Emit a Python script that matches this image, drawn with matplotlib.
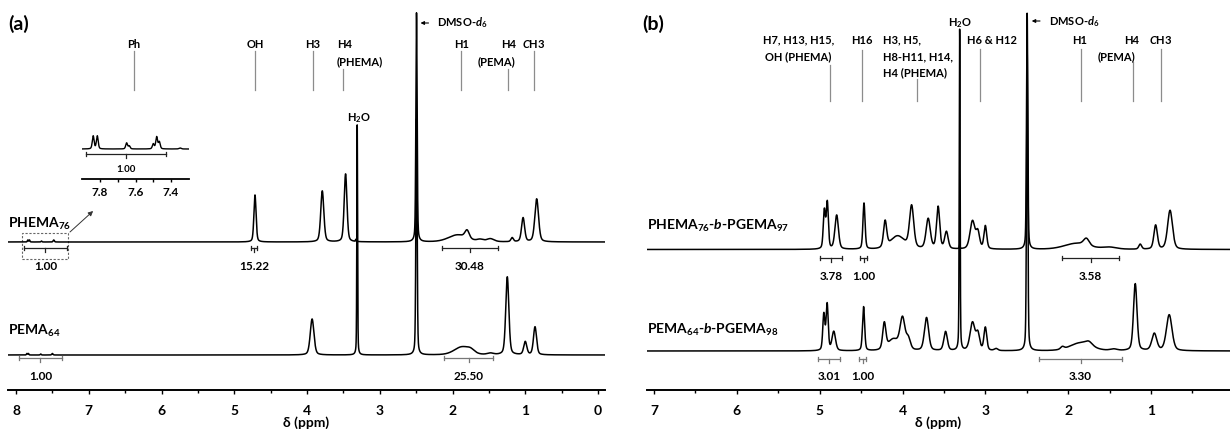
import numpy as np
import matplotlib
matplotlib.use('Agg')
import matplotlib.pyplot as plt
from matplotlib import font_manager as fm
from matplotlib.patches import Rectangle


def pick_bold_family():
    # first family that really ships a bold face
    for fam in ['Lato', 'Roboto', 'Open Sans', 'Noto Sans', 'Liberation Sans']:
        try:
            f = fm.findfont(fm.FontProperties(family=fam, weight='bold'), fallback_to_default=False)
        except Exception:
            continue
        if 'bold' in f.lower():
            return fam
    return 'DejaVu Sans'


FAM = pick_bold_family()
plt.rcParams['font.family'] = [FAM, 'DejaVu Sans']
plt.rcParams['font.weight'] = 'bold'
plt.rcParams['mathtext.fontset'] = 'custom'
plt.rcParams['mathtext.rm'] = FAM + ':bold'
plt.rcParams['mathtext.it'] = FAM + ':italic:bold'
plt.rcParams['mathtext.bf'] = FAM + ':bold'

# ---- peak tables (chemical shift, height in px, width in ppm) ----
# (a) PHEMA76
a1_pos = [7.838, 7.815, 7.650, 7.481, 4.715, 3.79, 3.47, 3.33, 2.495, 1.93, 1.80, 1.62, 1.48, 1.18, 1.03, 0.843]
a1_ht = [2.0, 2.0, 1.0, 2.0, 47, 51, 68, 2, 229, 7, 8, 2, 3, 4, 24, 43]
a1_wd = [0.015, 0.015, 0.015, 0.02, 0.035, 0.05, 0.045, 0.01, 0.02, 0.3, 0.07, 0.1, 0.12, 0.04, 0.05, 0.06]
# (a) PEMA64
a2_pos = [7.85, 7.83, 7.66, 7.50, 3.93, 3.31, 2.495, 1.87, 1.75, 1.48, 1.247, 1.00, 0.866]
a2_ht = [1.5, 1.5, 1.0, 1.5, 36, 230, 236, 8, 3, 1.5, 78, 13, 28]
a2_wd = [0.015, 0.015, 0.015, 0.02, 0.06, 0.012, 0.02, 0.25, 0.12, 0.1, 0.05, 0.05, 0.05]
# (b) PHEMA76-b-PGEMA97
b1_pos = [4.944, 4.908, 4.795, 4.465, 4.21, 4.06, 3.89, 3.69, 3.57, 3.47, 3.31, 3.155, 3.09, 3.00,
          2.495, 1.90, 1.78, 1.50, 1.13, 0.944, 0.77]
b1_ht = [38, 46, 34, 46, 26, 13, 42, 30, 42, 17, 4, 28, 16, 23,
         236, 6, 7, 2, 5, 24, 39]
b1_wd = [0.03, 0.03, 0.05, 0.03, 0.045, 0.2, 0.06, 0.06, 0.045, 0.05, 0.01, 0.07, 0.05, 0.04,
         0.018, 0.35, 0.08, 0.2, 0.04, 0.05, 0.07]
# (b) PEMA64-b-PGEMA98
b2_pos = [4.95, 4.91, 4.83, 4.47, 4.22, 4.11, 4.00, 3.93, 3.71, 3.48, 3.31, 3.155, 3.09, 3.00, 2.87,
          2.495, 2.07, 1.85, 1.75, 1.45, 1.19, 0.96, 0.78]
b2_ht = [36, 46, 19, 44, 26, 11, 31, 11, 33, 19, 321, 28, 16, 23, 2,
         300, 2.5, 8, 4, 1.5, 67, 17, 36]
b2_wd = [0.03, 0.03, 0.05, 0.03, 0.045, 0.15, 0.07, 0.06, 0.06, 0.05, 0.012, 0.07, 0.05, 0.04, 0.05,
         0.018, 0.05, 0.3, 0.1, 0.1, 0.05, 0.07, 0.08]

# inset: aromatic region of PHEMA76
ph_pos = [7.838, 7.815, 7.650, 7.635, 7.500, 7.481, 7.466, 7.349]
ph_ht = [13, 13, 6, 3, 5, 12, 7, 1]
ph_wd = [0.012, 0.012, 0.012, 0.012, 0.012, 0.012, 0.012, 0.015]

# integrals (start, end, value)
int_a1 = [(7.89, 7.30, '1.00'), (4.774, 4.683, '15.22'), (2.15, 1.37, '30.48')]
int_a2 = [(7.96, 7.37, '1.00'), (2.12, 1.44, '25.50')]
int_b1 = [(5.00, 4.73, '3.78'), (4.51, 4.43, '1.00'), (2.07, 1.39, '3.58')]
int_b2 = [(5.02, 4.76, '3.01'), (4.52, 4.44, '1.00'), (2.35, 1.35, '3.30')]

names_a = ['PHEMA$_{76}$', 'PEMA$_{64}$']
names_b = ['PHEMA$_{76}$-$b$-PGEMA$_{97}$', 'PEMA$_{64}$-$b$-PGEMA$_{98}$']


def spectrum(x, pos, ht, wd):
    y = np.zeros_like(x)
    for c, h, w in zip(pos, ht, wd):
        d = 4 * (x - c) ** 2 / w ** 2
        y += h * (0.65 * np.exp(-np.log(2) * d) + 0.35 / (1 + d))
    return y


H = 390  # axis line position in px from top


def py(p):
    return H - p


def integral(ax, x1, x2, ypix, label, lpix, color):
    y = py(ypix)
    ax.plot([x1, x2], [y, y], color=color, lw=0.9)
    ax.plot([x1, x1], [y - 2, y + 2], color=color, lw=0.9)
    ax.plot([x2, x2], [y - 2, y + 2], color=color, lw=0.9)
    xm = (x1 + x2) / 2
    ax.plot([xm, xm], [y, y - 4], color=color, lw=0.9)
    ax.text(xm, py(lpix), label, ha='center', va='baseline', fontsize=8.5)


def tag(ax, xl, top, bottom):
    ax.plot([xl, xl], [py(top), py(bottom)], color='#8c8c8c', lw=0.9)


def label(ax, x, ypix, s, ha='center', size=8):
    ax.text(x, py(ypix), s, ha=ha, va='baseline', fontsize=size)


def dmso_arrow(ax, x_tail, x_head, ypix):
    ax.annotate('', xy=(x_head, py(ypix)), xytext=(x_tail, py(ypix)),
                arrowprops=dict(arrowstyle='-|>', lw=0.8, color='black',
                                mutation_scale=5, shrinkA=0, shrinkB=0))


def style_axis(ax, lo, hi):
    ax.set_xlim(lo, hi)
    ax.set_ylim(0, H)
    for s in ['left', 'right', 'top']:
        ax.spines[s].set_visible(False)
    ax.spines['bottom'].set_linewidth(1.4)
    ax.set_yticks([])
    ax.tick_params(axis='x', which='major', direction='out', length=3, width=1, labelsize=10, pad=8)
    ax.tick_params(axis='x', which='minor', direction='out', length=2.5, width=1)
    ax.set_xlabel('δ (ppm)', fontsize=10, fontweight='bold', labelpad=-1)


fig = plt.figure(figsize=(12.3, 4.29), dpi=100)
W, FH = 1230, 429

# ---------------- panel (a) ----------------
ax_a = fig.add_axes([8 / W, (FH - H) / FH, 597 / W, H / FH])
style_axis(ax_a, 8.11, -0.096)
ax_a.set_xticks(np.arange(0, 9, 1))
ax_a.set_xticks(np.arange(0.5, 8, 1), minor=True)

x = np.linspace(8.3, -0.3, 24000)
ax_a.plot(x, py(242) + spectrum(x, a1_pos, a1_ht, a1_wd), color='black', lw=1.1)
ax_a.plot(x, py(355) + spectrum(x, a2_pos, a2_ht, a2_wd), color='black', lw=1.1)

ax_a.text(8.11, py(228), names_a[0], ha='left', va='baseline', fontsize=10)
ax_a.text(8.11, py(334.5), names_a[1], ha='left', va='baseline', fontsize=10)

for x1, x2, s in int_a1:
    integral(ax_a, x1, x2, 248, s, 269.5, '#222222')
for x1, x2, s in int_a2:
    integral(ax_a, x1, x2, 358, s, 380, '#777777')

# peak assignments
label(ax_a, 6.38, 48, 'Ph')
tag(ax_a, 6.38, 51, 90)
label(ax_a, 4.715, 48, 'OH')
tag(ax_a, 4.715, 51, 90)
label(ax_a, 3.92, 48, 'H3')
tag(ax_a, 3.92, 51, 90)
label(ax_a, 3.59, 48, 'H4', ha='left')
label(ax_a, 3.59, 65, '(PHEMA)', ha='left')
tag(ax_a, 3.50, 69, 90)
label(ax_a, 1.88, 48, 'H1')
tag(ax_a, 1.88, 51, 90)
label(ax_a, 1.13, 48, 'H4', ha='right')
label(ax_a, 1.13, 65, '(PEMA)', ha='right')
tag(ax_a, 1.24, 69, 90)
label(ax_a, 0.88, 48, '$C$H3')
tag(ax_a, 0.88, 51, 90)
label(ax_a, 3.29, 121.5, 'H$_2$O')
dmso_arrow(ax_a, 2.33, 2.44, 23)
label(ax_a, 2.21, 26.7, 'DMSO-$d_6$', ha='left')

# zoom box and arrow
ax_a.add_patch(Rectangle((7.92, py(259)), 7.285 - 7.92, 26, fill=False,
                         ls=(0, (2, 1.5)), lw=0.8, ec='#666666'))
ax_a.annotate('', xy=(6.94, py(211)), xytext=(7.258, py(232)),
              arrowprops=dict(arrowstyle='-|>', lw=0.7, color='#333333', mutation_scale=7,
                              shrinkA=0, shrinkB=0))

fig.text(8 / W, 1 - 30 / FH, '(a)', fontsize=14, ha='left', va='baseline')

# inset with the aromatic signals
ax_in = fig.add_axes([82 / W, (FH - 179) / FH, 107 / W, 50 / FH])
ax_in.set_xlim(7.901, 7.299)
ax_in.set_ylim(0, 50)
ax_in.patch.set_alpha(0)
for s in ['left', 'right', 'top']:
    ax_in.spines[s].set_visible(False)
ax_in.spines['bottom'].set_linewidth(1.3)
ax_in.set_yticks([])
ax_in.set_xticks([7.8, 7.6, 7.4])
ax_in.set_xticks([7.7, 7.5], minor=True)
ax_in.set_xticklabels(['7.8', '7.6', '7.4'])
ax_in.tick_params(axis='x', which='major', direction='out', length=2.5, width=1, labelsize=8.5, pad=3)
ax_in.tick_params(axis='x', which='minor', direction='out', length=2, width=1)
xi = np.linspace(7.901, 7.299, 3000)
ax_in.plot(xi, 30 + spectrum(xi, ph_pos, ph_ht, ph_wd), color='black', lw=1.0)
ax_in.plot([7.88, 7.43], [25, 25], color='#222222', lw=0.9)
for xe in [7.88, 7.43]:
    ax_in.plot([xe, xe], [23, 27], color='#222222', lw=0.9)
ax_in.plot([7.655, 7.655], [25, 21], color='#222222', lw=0.9)
ax_in.text(7.655, 7, '1.00', ha='center', va='baseline', fontsize=7)

# ---------------- panel (b) ----------------
ax_b = fig.add_axes([647 / W, (FH - H) / FH, 583 / W, H / FH])
style_axis(ax_b, 7.085, 0.046)
ax_b.set_xticks(np.arange(1, 8, 1))
ax_b.set_xticks(np.arange(0.5, 7.1, 1), minor=True)

xb = np.linspace(7.3, -0.2, 24000)
ax_b.plot(xb, py(249.5) + spectrum(xb, b1_pos, b1_ht, b1_wd), color='black', lw=1.1)
ax_b.plot(xb, py(351) + spectrum(xb, b2_pos, b2_ht, b2_wd), color='black', lw=1.1)

ax_b.text(7.085, py(229.5), names_b[0], ha='left', va='baseline', fontsize=10)
ax_b.text(7.085, py(333.5), names_b[1], ha='left', va='baseline', fontsize=10)

for x1, x2, s in int_b1:
    integral(ax_b, x1, x2, 258.3, s, 280.5, '#222222')
for x1, x2, s in int_b2:
    integral(ax_b, x1, x2, 359, s, 380.5, '#777777')

label(ax_b, 5.26, 43.5, 'H7, H13, H15,')
label(ax_b, 5.26, 60, 'OH (PHEMA)')
tag(ax_b, 4.87, 65, 101)
label(ax_b, 4.49, 43.5, 'H16')
tag(ax_b, 4.49, 50, 101)
label(ax_b, 4.235, 43.5, 'H3, H5,', ha='left')
label(ax_b, 4.235, 60, 'H8-H11, H14,', ha='left')
label(ax_b, 4.235, 76, 'H4 (PHEMA)', ha='left')
tag(ax_b, 3.83, 79, 101)
label(ax_b, 3.31, 26, 'H$_2$O')
label(ax_b, 2.925, 43.5, 'H6 & H12')
tag(ax_b, 3.07, 49, 101)
dmso_arrow(ax_b, 2.34, 2.44, 21)
label(ax_b, 2.23, 25, 'DMSO-$d_6$', ha='left')
label(ax_b, 1.86, 43.5, 'H1')
tag(ax_b, 1.85, 49, 101)
label(ax_b, 1.233, 43.5, 'H4')
label(ax_b, 1.414, 60, '(PEMA)')
tag(ax_b, 1.22, 62, 101)
label(ax_b, 0.883, 43.5, '$C$H3')
tag(ax_b, 0.883, 49, 101)

fig.text(642 / W, 1 - 30 / FH, '(b)', fontsize=14, ha='left', va='baseline')

fig.savefig('out.png', dpi=100)
